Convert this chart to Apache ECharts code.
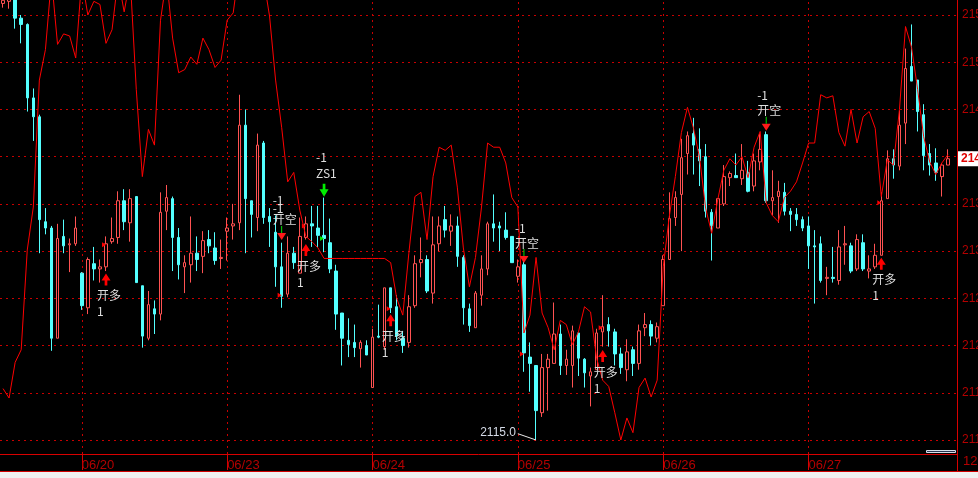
<!DOCTYPE html>
<html><head><meta charset="utf-8">
<script src="https://cdn.jsdelivr.net/npm/echarts@6/dist/echarts.min.js"></script>
<style>html,body{margin:0;padding:0;background:#000;}#c{width:978px;height:478px;}</style>
</head><body><div id="c"></div>
<script>
// ---- tick labels / axis data ----
const dayLabels = ['06/20', '06/23', '06/24', '06/25', '06/26', '06/27'];
const dayStarts = [13, 37, 61, 85, 109, 133];
const slotCount = 158;
const gridPrices = [2115, 2119.5, 2124, 2128.5, 2133, 2137.5, 2142, 2146.5, 2151, 2155.5];
const axisMin = 2113.666;
const axisMax = 2156.929;

// ---- candles ----
const opens = [2156.6,2156.8,2158.0,2155.2,2154.6,2147.6,2145.8,2135.8,2135.2,2124.7,
2134.4,2133.6,2133.7,2130.9,2127.6,2131.8,2131.3,2131.5,2133.9,2134.3,
2137.8,2135.7,2138.2,2129.7,2124.7,2127.5,2127.0,2136.8,2138.0,2134.3,
2131.5,2131.7,2132.8,2132.5,2134.1,2133.3,2132.3,2134.9,2135.4,2135.7,
2145.0,2137.8,2136.2,2143.3,2136.3,2134.8,2131.5,2128.9,2132.8,2130.9,
2134.3,2135.6,2135.2,2134.5,2133.8,2131.1,2127.1,2124.5,2124.3,2123.7,
2124.0,2120.0,2124.9,2123.9,2129.5,2127.7,2124.7,2124.3,2127.8,2131.9,
2132.2,2129.0,2133.7,2136.0,2134.9,2135.4,2132.4,2127.5,2125.7,2128.8,
2131.3,2135.6,2135.4,2135.0,2134.4,2130.6,2131.7,2122.9,2122.1,2117.6,
2121.9,2122.3,2125.1,2122.1,2122.1,2125.2,2122.7,2121.1,2121.7,2125.3,
2126.0,2125.3,2123.2,2121.7,2123.6,2122.3,2125.7,2126.0,2124.7,2127.8,
2132.2,2136.2,2138.4,2142.3,2144.2,2142.7,2142.0,2136.7,2135.2,2137.5,
2140.0,2140.2,2139.9,2140.5,2139.2,2141.5,2144.1,2137.8,2138.2,2138.6,
2136.8,2136.5,2136.0,2135.4,2133.5,2133.7,2130.4,2130.5,2130.2,2133.6,
2133.5,2131.3,2133.8,2131.1,2131.5,2132.6,2138.0,2141.8,2141.1,2145.2,
2150.6,2149.3,2146.0,2142.3,2141.4,2140.1,2141.2];
const closes = [2156.9,2157.2,2155.2,2154.6,2147.6,2145.8,2136.0,2135.2,2124.7,2134.2,
2133.5,2133.7,2135.2,2127.8,2132.2,2131.3,2131.5,2133.7,2134.2,2137.8,
2135.8,2138.0,2130.0,2124.9,2127.9,2127.0,2136.7,2138.1,2134.3,2131.7,
2131.9,2132.8,2132.2,2134.0,2133.5,2132.1,2132.4,2135.2,2135.6,2145.0,
2138.0,2136.5,2143.1,2136.2,2135.8,2131.5,2128.7,2132.8,2131.9,2134.4,
2135.6,2135.4,2134.5,2134.2,2131.3,2127.0,2124.7,2124.1,2123.8,2124.3,
2123.1,2124.8,2124.8,2129.5,2127.6,2124.9,2124.0,2127.7,2131.8,2132.2,
2129.2,2133.6,2135.4,2135.0,2135.4,2132.5,2127.6,2125.9,2129.0,2131.3,
2135.6,2135.2,2135.2,2134.3,2131.9,2131.5,2123.3,2122.3,2117.8,2121.9,
2122.7,2125.1,2122.1,2122.7,2125.4,2122.8,2121.4,2121.5,2125.2,2125.8,
2125.4,2123.2,2121.9,2123.4,2122.3,2125.4,2126.0,2124.9,2125.8,2132.2,
2136.1,2138.1,2141.9,2144.0,2143.1,2141.6,2136.8,2135.4,2138.0,2140.1,
2140.4,2140.0,2140.7,2138.7,2141.6,2142.7,2137.8,2138.1,2138.7,2136.8,
2136.5,2136.0,2135.2,2133.5,2133.4,2130.2,2130.5,2130.4,2133.4,2133.7,
2131.1,2134.1,2131.3,2131.3,2132.6,2137.8,2141.8,2141.2,2145.0,2150.4,
2149.2,2146.3,2142.1,2141.2,2140.5,2141.2,2141.8];
const lows = [2156.2,2156.1,2154.2,2152.8,2146.3,2143.5,2132.8,2134.6,2123.5,2124.7,
2132.8,2131.0,2133.5,2127.4,2127.0,2130.2,2130.0,2131.1,2133.7,2133.7,
2135.0,2133.9,2130.0,2123.8,2124.5,2125.1,2126.4,2135.0,2131.1,2130.3,
2129.0,2130.0,2131.1,2130.9,2132.8,2131.7,2131.3,2132.1,2134.1,2135.0,
2132.8,2134.3,2134.9,2135.6,2133.4,2129.6,2127.6,2128.6,2131.3,2130.9,
2134.1,2133.4,2133.4,2132.9,2130.9,2125.5,2122.1,2122.9,2122.9,2121.9,
2123.1,2120.0,2124.7,2123.6,2127.1,2124.5,2123.3,2123.8,2127.6,2130.5,
2129.0,2128.0,2133.0,2134.3,2133.5,2131.5,2126.0,2125.3,2125.7,2127.8,
2130.7,2133.9,2133.0,2134.1,2131.9,2130.0,2121.5,2119.6,2115.0,2117.2,
2117.8,2122.3,2121.2,2121.2,2120.0,2121.1,2120.0,2118.2,2121.7,2123.9,
2123.9,2122.1,2121.3,2120.6,2121.1,2121.7,2124.9,2124.0,2124.3,2127.8,
2132.2,2135.4,2133.0,2140.3,2140.3,2139.2,2136.2,2132.1,2135.2,2137.3,
2139.2,2140.0,2139.3,2138.6,2138.7,2140.7,2137.6,2136.4,2135.7,2136.4,
2134.9,2135.4,2134.9,2131.3,2128.0,2130.0,2128.8,2130.0,2129.8,2131.7,
2130.9,2131.1,2131.1,2130.4,2131.3,2132.6,2138.0,2139.9,2140.7,2143.2,
2149.2,2144.4,2140.7,2140.2,2139.7,2138.2,2141.2];
const highs = [2157.3,2157.5,2158.3,2155.5,2154.7,2148.5,2146.0,2137.1,2135.4,2135.6,
2136.0,2134.2,2136.3,2131.0,2132.4,2133.4,2132.2,2134.4,2136.2,2138.7,
2138.9,2138.9,2138.2,2129.7,2129.2,2128.3,2138.6,2139.3,2138.2,2135.2,
2132.6,2136.3,2134.4,2134.9,2135.0,2134.8,2134.1,2136.2,2137.5,2147.9,
2146.5,2137.8,2144.2,2143.5,2137.1,2136.4,2133.8,2134.4,2133.4,2136.2,
2136.3,2137.3,2137.3,2138.1,2136.1,2131.7,2127.1,2126.6,2126.0,2124.5,
2124.5,2125.6,2127.9,2129.5,2129.5,2128.8,2125.4,2128.8,2132.6,2134.3,
2132.6,2136.3,2136.3,2137.3,2136.5,2136.3,2132.6,2128.0,2129.2,2132.6,
2135.8,2138.4,2135.8,2136.7,2134.4,2132.2,2132.2,2124.3,2122.1,2123.2,
2123.2,2128.1,2126.0,2123.6,2125.9,2125.2,2122.8,2121.9,2125.6,2128.8,
2126.7,2125.6,2123.8,2124.6,2123.9,2126.0,2127.1,2126.4,2126.2,2132.6,
2138.6,2138.7,2143.7,2144.4,2145.7,2144.7,2143.2,2137.0,2138.0,2141.2,
2140.6,2142.3,2143.2,2141.6,2142.3,2144.2,2144.4,2140.7,2139.7,2139.5,
2137.1,2137.1,2136.3,2136.3,2135.0,2134.4,2131.5,2133.4,2135.0,2135.4,
2133.8,2134.6,2134.6,2132.6,2133.7,2138.6,2142.6,2142.7,2146.4,2152.3,
2154.6,2149.3,2147.0,2143.2,2142.8,2141.4,2142.7];

// ---- red indicator line ----
const indicator = [2119.9,2119.0,2122.4,2123.6,2133.1,2137.2,2149.3,2152.2,2159.0,2152.7,
2153.7,2153.5,2151.4,2159.0,2155.5,2156.8,2156.5,2152.8,2154.1,2159.0,
2155.8,2159.0,2148.4,2140.1,2144.6,2143.1,2155.0,2159.0,2153.3,2150.0,
2150.3,2151.5,2150.8,2153.3,2152.2,2150.5,2151.2,2155.0,2155.7,2160.0,
2162.0,2163.0,2162.0,2159.0,2155.4,2149.3,2144.8,2139.6,2140.5,2136.9,
2134.4,2133.9,2133.3,2132.3,2132.3,2132.3,2132.3,2132.3,2132.3,2132.3,
2132.3,2132.3,2132.3,2132.3,2131.9,2128.5,2126.9,2132.8,2138.2,2138.6,
2134.1,2140.1,2142.9,2142.6,2143.1,2139.1,2133.3,2129.6,2132.4,2137.2,
2143.3,2142.9,2142.9,2141.4,2138.1,2137.2,2125.2,2126.9,2132.4,2127.1,
2125.7,2123.6,2126.4,2126.0,2124.1,2125.3,2127.7,2127.2,2122.8,2120.7,
2120.1,2117.6,2115.0,2117.1,2115.7,2120.0,2120.9,2119.1,2120.7,2131.5,
2136.3,2140.1,2144.3,2146.7,2144.7,2141.9,2137.1,2134.7,2137.9,2140.7,
2141.8,2141.2,2142.0,2140.0,2142.9,2144.4,2137.6,2136.4,2135.8,2138.1,
2138.7,2139.6,2141.4,2143.3,2143.3,2147.9,2147.6,2147.8,2144.3,2143.0,
2146.5,2143.3,2145.8,2146.3,2144.7,2138.2,2141.7,2141.2,2146.5,2154.4,
2152.4,2148.4,2143.9,2141.5,2140.3,2141.4,2142.2];

// ---- signals ----
const buyIdx = [17, 50, 64, 99, 145];
const buyArrowPrice = [2130.3, 2133.1, 2126.4, 2123.0, 2131.8];
const buyFlagPrice = [2133.6, 2135.4, 2127.5, 2125.7, 2137.6];
const sellIdx = [46, 86, 126];
const sellArrowPrice = [2134.4, 2132.2, 2144.8];
const sellFlagPrice = [2128.8, 2123.2, null];
const sellText = ['{a|-1}\n{a|-1}\n{b|开空}', '{b|-1}\n{b|开空}', '{b|-1}\n{b|开空}'];
const zsIdx = 53, zsArrowPrice = 2138.8, zsFlagPrice = 2134.2;
const lowIdx = 88, lowPrice = 2115.0, lowLabelIdx = 85, lowLabelPrice = 2115.6;
const lastPrice = 2141.8;

// ---- build ----
const categories = [];
for (let i = 0; i < slotCount; i++) {
  const k = dayStarts.indexOf(i);
  categories.push(k >= 0 ? dayLabels[k] : '');
}
const candles = opens.map((o, i) => [o, closes[i], lows[i], highs[i]]);

const RED = '#d80000', TXT = '#b40000', WHITE = '#dedede';
const FONT_CJK = '"Noto Sans CJK SC", "Noto Sans", sans-serif';
const FONT_NUM = '"Liberation Sans", Arial, sans-serif';
const UP_ARROW = 'path://M5,0L10,7L6.5,7L6.5,12L3.5,12L3.5,7L0,7Z';
const DOWN_ARROW = 'path://M3.5,0L6.5,0L6.5,5L10,5L5,12L0,5L3.5,5Z';
const DOWN_TRI = 'path://M0,0L10,0L5,7Z';

const mp = [];
buyIdx.forEach((idx, k) => {
  mp.push({coord: [idx, buyArrowPrice[k]], symbol: UP_ARROW, symbolSize: [9, 12],
    itemStyle: {color: '#ff0000'},
    label: {show: true, position: 'inside', formatter: '开多\n1', color: WHITE, fontSize: 12,
      fontFamily: FONT_CJK, lineHeight: 16, align: 'left', verticalAlign: 'top', offset: [-9, 8]}});
  mp.push({coord: [idx, buyFlagPrice[k]], symbol: 'triangle', symbolRotate: -90, symbolSize: [5, 4],
    symbolOffset: [-2, 0], itemStyle: {color: '#ff0000'}, label: {show: false}});
});
sellIdx.forEach((idx, k) => {
  mp.push({coord: [idx, sellArrowPrice[k]], symbol: DOWN_TRI, symbolSize: [9, 7],
    itemStyle: {color: '#ff1a1a'},
    label: {show: true, position: 'inside', formatter: sellText[k], color: WHITE,
      align: 'left', verticalAlign: 'bottom', offset: [-9, -9],
      rich: {a: {fontSize: 12, lineHeight: 8, fontFamily: FONT_CJK, color: WHITE},
             b: {fontSize: 12, lineHeight: 15, fontFamily: FONT_CJK, color: WHITE}}}});
  mp.push({coord: [idx, sellArrowPrice[k]], symbol: 'rect', symbolSize: [1, 7], symbolOffset: [0, -7],
    itemStyle: {color: '#00e000'}, label: {show: false}});
  if (sellFlagPrice[k] !== null) {
    mp.push({coord: [idx, sellFlagPrice[k]], symbol: 'triangle', symbolRotate: -90, symbolSize: [5, 4],
      symbolOffset: [-2, 0], itemStyle: {color: '#ff0000'}, label: {show: false}});
  }
});
mp.push({coord: [zsIdx, zsArrowPrice], symbol: DOWN_ARROW, symbolSize: [9, 13],
  itemStyle: {color: '#00ee00'},
  label: {show: true, position: 'inside', formatter: '-1\nZS1', color: WHITE, fontSize: 12,
    fontFamily: FONT_CJK, lineHeight: 16, align: 'left', verticalAlign: 'bottom', offset: [-8, -9]}});
mp.push({coord: [zsIdx, zsFlagPrice], symbol: 'triangle', symbolRotate: -90, symbolSize: [5, 4],
  symbolOffset: [-2, 0], itemStyle: {color: '#00ee00'}, label: {show: false}});

const ml = [];
gridPrices.forEach(p => ml.push({yAxis: p,
  lineStyle: {color: '#c80000', type: [2, 4], width: 1},
  label: {show: true, position: 'end', distance: 5, formatter: p.toFixed(1), color: TXT,
    fontSize: 12, fontFamily: FONT_NUM}}));
dayStarts.forEach(d => ml.push({xAxis: d,
  lineStyle: {color: '#c80000', type: [2, 4], width: 1}, label: {show: false}}));

const hl = [
  {yAxis: lastPrice, lineStyle: {color: 'rgba(0,0,0,0)', width: 0},
   label: {show: true, position: 'end', distance: 1, formatter: lastPrice.toFixed(1),
     color: '#e00000', backgroundColor: '#ffffff', padding: [2, 3, 1, 3], fontSize: 12,
     fontWeight: 'bold', fontFamily: FONT_NUM}},
  [{coord: [lowLabelIdx, lowLabelPrice],
    label: {show: true, position: 'start', formatter: lowPrice.toFixed(1), color: '#d4dae6',
      fontSize: 12, fontFamily: FONT_NUM, distance: 2},
    lineStyle: {color: '#e8e8e8', width: 1, type: 'solid'}},
   {coord: [lowIdx, lowPrice]}]
];

const chart = echarts.init(document.getElementById('c'), null, {renderer: 'canvas'});
chart.setOption({
  backgroundColor: '#000000',
  animation: false,
  grid: {left: 0, right: 21, top: 0, bottom: 24, containLabel: false},
  xAxis: {
    type: 'category', data: categories, boundaryGap: true,
    axisLine: {show: true, lineStyle: {color: RED, width: 1}},
    axisTick: {show: true, alignWithLabel: true, length: 16, lineStyle: {color: RED},
      interval: (i) => dayStarts.includes(i)},
    axisLabel: {show: true, interval: (i) => dayStarts.includes(i), align: 'left', color: TXT,
      fontSize: 13, fontFamily: FONT_NUM, margin: 5},
    splitLine: {show: false}
  },
  yAxis: {
    type: 'value', position: 'right', min: axisMin, max: axisMax, scale: true,
    axisLine: {show: true, lineStyle: {color: RED, width: 1}},
    axisTick: {show: false}, axisLabel: {show: false}, splitLine: {show: false}
  },
  series: [
    {
      type: 'candlestick', data: candles, barWidth: 3, z: 2,
      itemStyle: {color: '#000000', color0: '#54ffff', borderColor: '#ff5252', borderColor0: '#54ffff', borderWidth: 1},
      markLine: {silent: true, symbol: 'none', z: 1, data: ml},
      markPoint: {silent: true, z: 6, data: mp}
    },
    {
      type: 'line', data: indicator, z: 3, symbol: 'none', showSymbol: false,
      lineStyle: {color: '#ff0000', width: 1}, itemStyle: {color: '#ff0000'},
      markLine: {silent: true, symbol: 'none', z: 7, data: hl}
    }
  ],
  graphic: [
    {type: 'rect', shape: {x: 0, y: 472, width: 978, height: 6}, style: {fill: '#f0f0f0'}, silent: true},
    {type: 'line', shape: {x1: 0, y1: 471.5, x2: 978, y2: 471.5}, style: {stroke: '#d00000', lineWidth: 1}, silent: true},
    {type: 'line', shape: {x1: 957.5, y1: 454, x2: 957.5, y2: 471}, style: {stroke: RED, lineWidth: 1}, silent: true},
    {type: 'rect', shape: {x: 926.5, y: 450.5, width: 29, height: 2}, style: {fill: '#2a3550', stroke: '#d8dde8', lineWidth: 1}, silent: true},
    {type: 'text', x: 963, y: 455, style: {text: '12', fill: TXT, font: '13px "Liberation Sans", Arial, sans-serif'}, silent: true}
  ]
});
</script></body></html>
